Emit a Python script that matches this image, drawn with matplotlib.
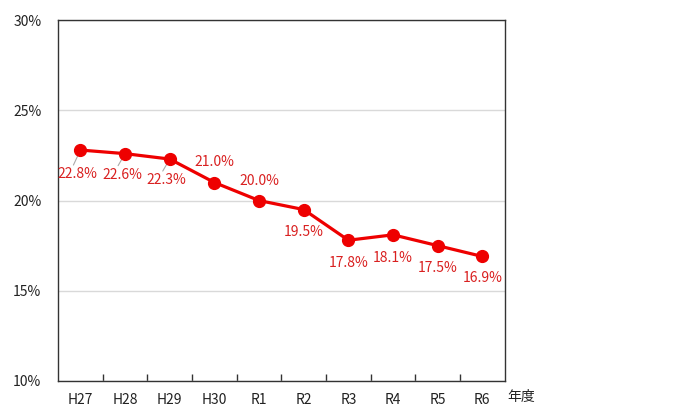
import matplotlib as mpl

mpl.use("Agg")

import matplotlib.pyplot as plt
import numpy as np

plt.rcParams["font.family"] = ["Noto Sans CJK JP", "DejaVu Sans"]

YEARS = ["H27", "H28", "H29", "H30", "R1", "R2", "R3", "R4", "R5", "R6"]
RATES = [22.8, 22.6, 22.3, 21.0, 20.0, 19.5, 17.8, 18.1, 17.5, 16.9]
LABELS = ["22.8%", "22.6%", "22.3%", "21.0%", "20.0%", "19.5%", "17.8%", "18.1%", "17.5%", "16.9%"]
Y_TICKS = [10, 15, 20, 25, 30]

# label offsets in pixels (dx, dy) from each point
OFFSETS = [(-3, -24), (-3, -21), (-3, -21), (0, 21), (0, 20),
           (0, -22), (0, -23), (0, -23), (0, -22), (0, -22)]
LEADER = {0, 1, 2}

RED = "#ee0000"
LABEL_RED = "#d92020"

fig = plt.figure(figsize=(7.0, 4.2), dpi=100, facecolor="white")
ax = fig.add_axes([0.083, 0.093, 0.638, 0.859])

x = np.arange(len(YEARS))
ax.plot(x, RATES, color=RED, linewidth=2.3, marker="o", markersize=8.5, zorder=3)

for i, (xi, yi) in enumerate(zip(x, RATES)):
    dx, dy = OFFSETS[i]
    ax.annotate(LABELS[i], (xi, yi), xytext=(dx, dy), textcoords="offset pixels",
                ha="center", va="center", fontsize=10, color=LABEL_RED, zorder=4)
    if i in LEADER:
        ax.annotate("", (xi, yi), xytext=(dx - 4, dy + 9), textcoords="offset pixels",
                    arrowprops=dict(arrowstyle="-", color="#aaaaaa", lw=0.8,
                                    shrinkA=0, shrinkB=2), zorder=2)

ax.set_xlim(-0.5, len(YEARS) - 0.5)
ax.set_ylim(10, 30)
ax.set_yticks(Y_TICKS)
ax.set_yticklabels([f"{v}%" for v in Y_TICKS])
ax.set_xticks(x)
ax.set_xticklabels(YEARS)
ax.set_xticks(np.arange(0.5, len(YEARS) - 0.5, 1.0), minor=True)

ax.tick_params(axis="y", length=0, pad=12, labelsize=10, colors="#222222")
ax.tick_params(axis="x", which="major", length=0, pad=9, labelsize=10, colors="#222222")
ax.tick_params(axis="x", which="minor", length=5, direction="in", color="#333333", width=1)

ax.grid(axis="y", color="#d9d9d9", linewidth=1)
ax.set_axisbelow(True)
for spine in ax.spines.values():
    spine.set_color("#333333")
    spine.set_linewidth(1.0)

ax.text(1.005, -0.045, "年度", transform=ax.transAxes, ha="left", va="center",
        fontsize=10, color="#222222")

fig.savefig("out.png", dpi=100)
